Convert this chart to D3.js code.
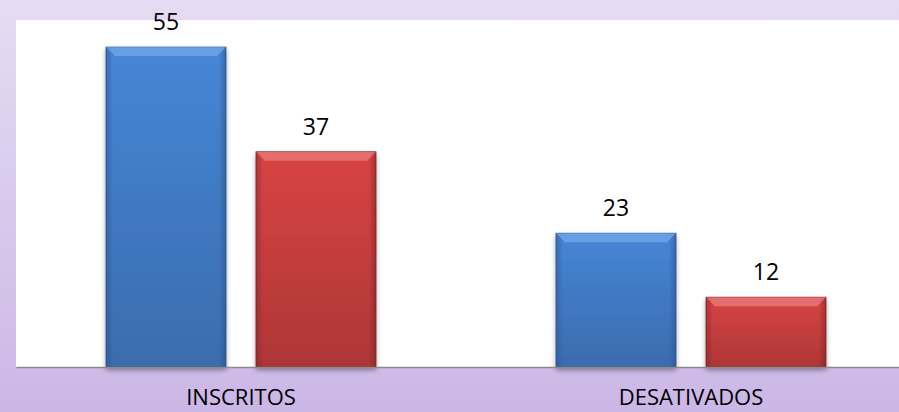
<!DOCTYPE html>
<meta charset="utf-8">
<script src="https://d3js.org/d3.v7.min.js"></script>
<style>
  body { margin: 0; }
  text { font-family: "Open Sans", "Noto Sans", sans-serif; }
</style>
<div id="chart"></div>
<script>

// data
var categories = ["INSCRITOS", "DESATIVADOS"];
var series = ["a", "b"];
var valuesA = [55, 23];
var valuesB = [37, 12];

var W = 899, H = 412;
var plot = {left: 16, top: 20, right: 916, bottom: 367};

var svg = d3.select("#chart").append("svg")
    .attr("width", W)
    .attr("height", H);

var defs = svg.append("defs");

// background gradient
var bg = defs.append("linearGradient").attr("id", "bg")
    .attr("x1", 0).attr("y1", 0).attr("x2", 0).attr("y2", 1);
bg.append("stop").attr("offset", "0%").attr("stop-color", "#e6dcf3");
bg.append("stop").attr("offset", "100%").attr("stop-color", "#cbb7e6");

svg.append("rect").attr("width", W).attr("height", H).attr("fill", "url(#bg)");

svg.append("rect")
    .attr("x", plot.left).attr("y", plot.top)
    .attr("width", W - plot.left).attr("height", plot.bottom - plot.top)
    .attr("fill", "#ffffff");

// bar gradients
var colors = {
  a: {top: "#4686d6", bot: "#3a6cae", light: "#7fb0ec", dark: "#27508a"},
  b: {top: "#d84444", bot: "#ae3636", light: "#f08a8a", dark: "#7a2222"}
};
series.forEach(function(s) {
  var g = defs.append("linearGradient").attr("id", "fill-" + s)
      .attr("x1", 0).attr("y1", 0).attr("x2", 0).attr("y2", 1);
  g.append("stop").attr("offset", "0%").attr("stop-color", colors[s].top);
  g.append("stop").attr("offset", "100%").attr("stop-color", colors[s].bot);
  var h = defs.append("linearGradient").attr("id", "side-" + s)
      .attr("x1", 0).attr("y1", 0).attr("x2", 1).attr("y2", 0);
  h.append("stop").attr("offset", "0%").attr("stop-color", colors[s].dark).attr("stop-opacity", 0.45);
  h.append("stop").attr("offset", "6%").attr("stop-color", colors[s].dark).attr("stop-opacity", 0);
  h.append("stop").attr("offset", "94%").attr("stop-color", colors[s].dark).attr("stop-opacity", 0);
  h.append("stop").attr("offset", "100%").attr("stop-color", colors[s].dark).attr("stop-opacity", 0.55);
});

var shadow = defs.append("filter").attr("id", "shadow")
    .attr("x", "-10%").attr("y", "-10%").attr("width", "120%").attr("height", "130%");
shadow.append("feGaussianBlur").attr("in", "SourceAlpha").attr("stdDeviation", 2.5);
shadow.append("feOffset").attr("dx", 0).attr("dy", 3).attr("result", "b");
shadow.append("feComponentTransfer").append("feFuncA").attr("type", "linear").attr("slope", 0.35);
var merge = shadow.append("feMerge");
merge.append("feMergeNode");
merge.append("feMergeNode").attr("in", "SourceGraphic");

// scales
var x0 = d3.scaleBand().domain(categories).range([plot.left, plot.right]).padding(0);
var x1 = d3.scaleBand().domain(series).range([0, x0.bandwidth()])
    .paddingInner(0.2).paddingOuter(0.6);
var y = d3.scaleLinear().domain([0, 60]).range([plot.bottom, plot.bottom - 349]);

var rows = categories.map(function(c, i) {
  return {cat: c, vals: [{s: "a", v: valuesA[i]}, {s: "b", v: valuesB[i]}]};
});

var groups = svg.selectAll("g.grp").data(rows).enter().append("g")
    .attr("class", "grp")
    .attr("transform", function(d) { return "translate(" + x0(d.cat) + ",0)"; });

var bars = groups.selectAll("g.bar").data(function(d) { return d.vals; })
  .enter().append("g").attr("class", "bar");

bars.append("rect")
    .attr("x", function(d) { return x1(d.s); })
    .attr("y", function(d) { return y(d.v); })
    .attr("width", x1.bandwidth())
    .attr("height", function(d) { return y(0) - y(d.v); })
    .attr("fill", function(d) { return "url(#fill-" + d.s + ")"; })
    .attr("stroke", function(d) { return colors[d.s].dark; })
    .attr("stroke-width", 0.8)
    .attr("filter", "url(#shadow)");

bars.append("rect")
    .attr("x", function(d) { return x1(d.s); })
    .attr("y", function(d) { return y(d.v); })
    .attr("width", x1.bandwidth())
    .attr("height", function(d) { return y(0) - y(d.v); })
    .attr("fill", function(d) { return "url(#side-" + d.s + ")"; });

// top bevel
bars.append("path")
    .attr("d", function(d) {
      var xl = x1(d.s), xr = xl + x1.bandwidth(), t = y(d.v), b = 9;
      return "M" + xl + "," + t + "L" + xr + "," + t + "L" + (xr - b) + "," + (t + b) +
             "L" + (xl + b) + "," + (t + b) + "Z";
    })
    .attr("fill", function(d) { return colors[d.s].light; })
    .attr("opacity", 0.6);

bars.append("text")
    .attr("x", function(d) { return x1(d.s) + x1.bandwidth() / 2; })
    .attr("y", function(d) { return y(d.v) - 17; })
    .attr("text-anchor", "middle")
    .attr("font-size", 23)
    .attr("fill", "#000")
    .text(function(d) { return d.v; });

// axis
var axis = svg.append("g").attr("transform", "translate(0," + plot.bottom + ")")
    .call(d3.axisBottom(x0).tickSize(0).tickPadding(22));
axis.select(".domain").attr("stroke", "#8a8a8a").attr("stroke-width", 1.5);
axis.selectAll("text")
    .attr("font-size", 22)
    .attr("fill", "#000")
    .style("font-family", "'Open Sans', sans-serif");

</script>
